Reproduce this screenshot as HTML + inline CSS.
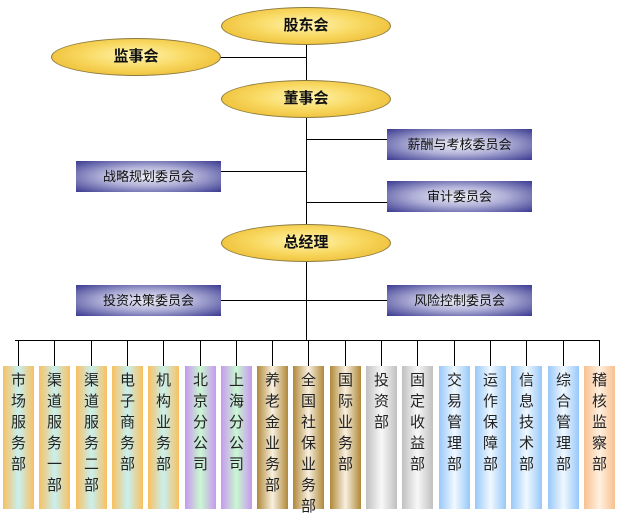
<html><head><style>
body{margin:0;width:619px;height:509px;background:#fff;position:relative;overflow:hidden;font-family:"Liberation Sans","Noto Sans CJK SC",sans-serif}
.e{position:absolute;width:168px;height:36px;border-radius:50%;border:1px solid #8a7a40;background:radial-gradient(ellipse at 50% 45%,#fff4b0 0%,#f8d860 45%,#e8b020 100%);font-weight:bold;font-size:15px;text-align:center;line-height:36px;color:#111}
.b{position:absolute;width:145px;height:31px;background:radial-gradient(ellipse at 50% 50%,#f0f0f8 0%,#b0b0d8 45%,#3a3a90 100%);color:#111;font-size:13px;text-align:center;line-height:31px}
.l{position:absolute;background:#000}
.c{position:absolute;top:366px;width:31px;height:143px;font-size:15px;line-height:21px;text-align:center;padding-top:4px;box-sizing:border-box;color:#222}
</style></head><body>
<div class="l" style="left:306px;top:44px;width:1px;height:296px"></div>
<div class="l" style="left:220px;top:57px;width:86px;height:1px"></div>
<div class="l" style="left:306px;top:139px;width:82px;height:1px"></div>
<div class="l" style="left:220px;top:171px;width:86px;height:1px"></div>
<div class="l" style="left:306px;top:202px;width:82px;height:1px"></div>
<div class="l" style="left:220px;top:300px;width:168px;height:1px"></div>
<div class="l" style="left:15px;top:340px;width:584px;height:1px"></div>
<div class="e" style="left:221px;top:7px">股东会</div>
<div class="e" style="left:51px;top:38px">监事会</div>
<div class="e" style="left:221px;top:80px">董事会</div>
<div class="e" style="left:221px;top:224px">总经理</div>
<div class="b" style="left:387px;top:129px">薪酬与考核委员会</div>
<div class="b" style="left:76px;top:161px">战略规划委员会</div>
<div class="b" style="left:387px;top:181px">审计委员会</div>
<div class="b" style="left:76px;top:285px">投资决策委员会</div>
<div class="b" style="left:387px;top:285px">风险控制委员会</div>
<div id="cols"></div>
<script>
var d=[["市场服务部","o"],["渠道服务一部","o"],["渠道服务二部","o"],["电子商务部","o"],["机构业务部","o"],["北京分公司","p"],["上海分公司","p"],["养老金业务部","br"],["全国社保业务部","br"],["国际业务部","br"],["投资部","g"],["固定收益部","g"],["交易管理部","bl"],["运作保障部","bl"],["信息技术部","bl"],["综合管理部","bl"],["稽核监察部","pe"]];
var g={o:"linear-gradient(90deg,#f8c060,#c8f0f0 50%,#f8c060)",p:"linear-gradient(90deg,#c898f0,#c8f8d0 50%,#c898f0)",br:"linear-gradient(90deg,#b08838,#f8f0e0 50%,#b08838)",g:"linear-gradient(90deg,#c0c0c0,#f8f8f8 50%,#c0c0c0)",bl:"linear-gradient(90deg,#98c8f8,#f0f8ff 50%,#98c8f8)",pe:"linear-gradient(90deg,#f8c090,#fff0e0 50%,#f8c090)"};
var h="";
d.forEach(function(a,i){var x=3+i*36.3;h+='<div class="l" style="left:'+Math.round(x+15)+'px;top:340px;width:1px;height:26px"></div><div class="c" style="left:'+Math.round(x)+'px;background:'+g[a[1]]+'">'+a[0].split("").join("<br>")+'</div>';});
document.getElementById("cols").innerHTML=h;
</script>
</body></html>
